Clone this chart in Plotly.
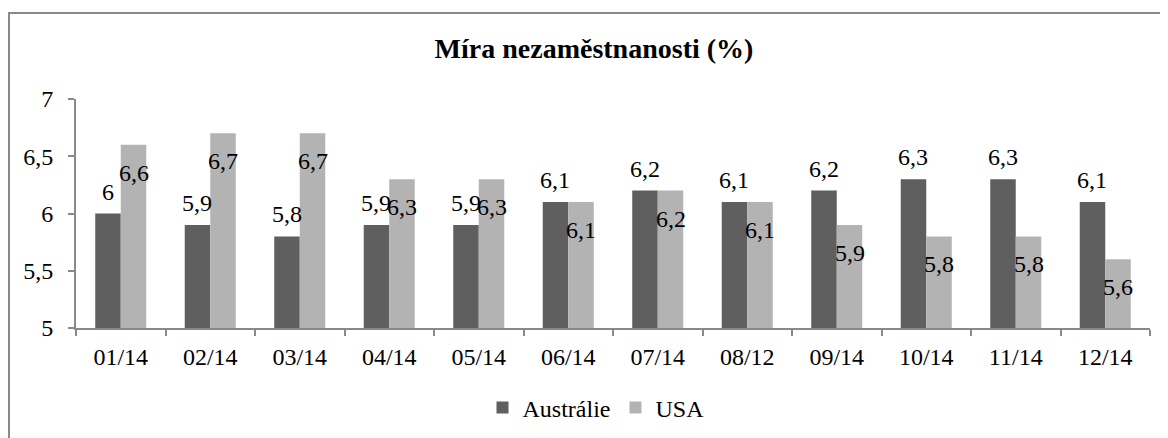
import plotly.graph_objects as go

categories = ["01/14", "02/14", "03/14", "04/14", "05/14", "06/14",
              "07/14", "08/12", "09/14", "10/14", "11/14", "12/14"]
australie = [6.0, 5.9, 5.8, 5.9, 5.9, 6.1, 6.2, 6.1, 6.2, 6.3, 6.3, 6.1]
usa = [6.6, 6.7, 6.7, 6.3, 6.3, 6.1, 6.2, 6.1, 5.9, 5.8, 5.8, 5.6]
y_ticks = [5, 5.5, 6, 6.5, 7]
y_ticktext = ["5", "5,5", "6", "6,5", "7"]

FONT = "Liberation Serif, Times New Roman, serif"
DARK = "#5f5f5f"
LIGHT = "#b3b3b3"
AXIS = "#898989"

# the page body adds an 8px margin, so the figure is 8px smaller
W, H = 1160, 430
L, R, T, B = 68, 18, 91, 110
FS = 24


def fmt(v):
    return ("%g" % v).replace(".", ",")


fig = go.Figure()
fig.add_trace(go.Bar(x=categories, y=australie, name="Austrálie",
                     marker=dict(color=DARK, line=dict(width=0)),
                     offsetgroup="a"))
fig.add_trace(go.Bar(x=categories, y=usa, name="USA",
                     marker=dict(color=LIGHT, line=dict(width=0)),
                     offsetgroup="u"))

annotations = []
for i, c in enumerate(categories):
    annotations.append(dict(x=c, y=australie[i], xref="x", yref="y",
                            text=fmt(australie[i]), showarrow=False,
                            xshift=-13, yshift=22, yanchor="middle",
                            font=dict(family=FONT, size=FS, color="#000")))
    annotations.append(dict(x=c, y=usa[i], xref="x", yref="y",
                            text=fmt(usa[i]), showarrow=False,
                            xshift=13, yshift=-28, yanchor="middle",
                            font=dict(family=FONT, size=FS, color="#000")))

pw = W - L - R
ph = H - T - B
border = dict(type="rect", xref="paper", yref="paper",
              x0=(1 - L) / pw, x1=(W + 20 - L) / pw,
              y0=-(B + 20) / ph, y1=(H - B - 5) / ph,
              line=dict(color=AXIS, width=2), fillcolor="rgba(0,0,0,0)",
              layer="above")

fig.update_layout(
    width=W, height=H,
    margin=dict(l=L, r=R, t=T, b=B, pad=0),
    paper_bgcolor="white", plot_bgcolor="white",
    barmode="group", bargap=0.43, bargroupgap=0,
    font=dict(family=FONT, size=FS, color="#000"),
    title=dict(text="<b>Míra nezaměstnanosti (%)</b>",
               x=586 / W, xref="container", xanchor="center",
               y=1 - 40 / H, yref="container", yanchor="middle",
               font=dict(family=FONT, size=28, color="#000")),
    xaxis=dict(type="category", showgrid=False, showline=True,
               linecolor=AXIS, linewidth=2, ticks="outside",
               tickson="boundaries", ticklen=6, tickcolor=AXIS,
               tickwidth=2, tickfont=dict(family=FONT, size=FS),
               ticklabelstandoff=6),
    yaxis=dict(range=[5, 7], tickvals=y_ticks, ticktext=y_ticktext,
               showgrid=False, showline=True, linecolor=AXIS,
               linewidth=2, ticks="outside", ticklen=6, tickcolor=AXIS,
               tickwidth=2, tickfont=dict(family=FONT, size=FS),
               ticklabelstandoff=10, zeroline=False),
    legend=dict(orientation="h", x=588 / W, xref="container",
                xanchor="center", y=1 - 400 / H, yref="container",
                yanchor="middle", font=dict(family=FONT, size=FS),
                itemwidth=30, traceorder="normal"),
    annotations=annotations,
    shapes=[border],
    showlegend=True,
)

fig.write_html("out.html")
